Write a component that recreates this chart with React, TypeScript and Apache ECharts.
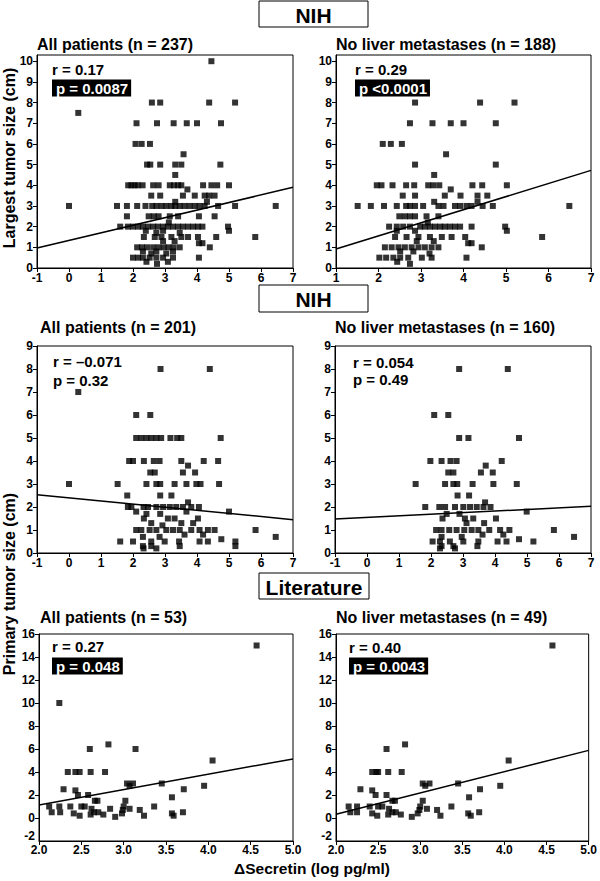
import React, { useEffect, useRef } from "react";
import * as echarts from "echarts";

const FONT = '"Liberation Sans", Arial, Helvetica, sans-serif';

// Panel 1: NIH, all patients (n = 237), largest tumor size
const nihAllLargest: number[][] = [
  [4.45, 10], [2.59, 8], [2.85, 8], [4.38, 8], [5.19, 8], [0.29, 7.5],
  [2.11, 7], [2.75, 7], [3.27, 7], [3.68, 7], [4.0, 7], [4.75, 7],
  [2.08, 6], [2.27, 6], [2.53, 6], [3.58, 5.5],
  [2.44, 5], [2.54, 5], [2.85, 5], [3.32, 5], [3.51, 5], [4.73, 5], [3.32, 4.5],
  [1.85, 4], [1.95, 4], [2.05, 4], [2.15, 4], [2.3, 4], [2.63, 4], [2.8, 4], [3.15, 4], [3.28, 4],
  [3.41, 4], [3.51, 4], [4.19, 4], [4.45, 4], [4.63, 4], [5.0, 4], [3.7, 3.8],
  [2.57, 3.5], [2.85, 3.5], [3.56, 3.5], [3.93, 3.5], [4.24, 3.5], [4.38, 3.5], [4.55, 3.5],
  [3.32, 3.2], [4.31, 3.2],
  [0.0, 3], [1.5, 3], [1.81, 3], [2.13, 3], [2.39, 3], [2.6, 3], [2.73, 3], [2.89, 3], [3.04, 3],
  [3.2, 3], [3.32, 3], [3.46, 3], [3.61, 3], [3.77, 3], [3.93, 3], [4.08, 3], [4.24, 3], [4.66, 3],
  [5.19, 3], [6.46, 3],
  [1.81, 2.5], [2.49, 2.5], [2.65, 2.5], [2.8, 2.5], [3.15, 2.5], [3.41, 2.5], [4.06, 2.5], [4.55, 2.5],
  [3.12, 2.2],
  [1.6, 2], [1.84, 2], [2.0, 2], [2.16, 2], [2.31, 2], [2.47, 2], [2.63, 2], [2.78, 2], [2.94, 2],
  [3.09, 2], [3.25, 2], [3.41, 2], [3.56, 2], [3.72, 2], [3.88, 2], [4.03, 2], [4.17, 2], [4.97, 2],
  [2.4, 1.8], [2.94, 1.8], [5.0, 1.8], [2.73, 1.7], [3.46, 1.7],
  [2.34, 1.5], [2.68, 1.5], [2.89, 1.5], [3.2, 1.5], [3.51, 1.5], [3.72, 1.5], [4.03, 1.5], [4.6, 1.5], [5.82, 1.5],
  [2.94, 1.3], [3.3, 1.3], [4.06, 1.2], [4.17, 1.2],
  [2.13, 1], [2.28, 1], [2.44, 1], [2.63, 1], [2.8, 1], [2.96, 1], [3.11, 1], [3.27, 1], [3.46, 1], [4.4, 1],
  [2.31, 0.8], [2.73, 0.8], [3.25, 0.8], [2.57, 0.7], [3.04, 0.7],
  [2.0, 0.5], [2.16, 0.5], [2.31, 0.5], [2.52, 0.5], [2.73, 0.5], [2.94, 0.5], [3.25, 0.5], [4.06, 0.5],
  [2.42, 0.3], [3.09, 0.3], [2.75, 0.2],
];

// Panel 2: NIH, no liver metastases (n = 188), largest tumor size
const nihNoMetLargest: number[][] = [
  [2.86, 8], [4.39, 8], [5.2, 8],
  [2.74, 7], [3.27, 7], [3.7, 7], [4.0, 7], [4.76, 7],
  [2.1, 6], [2.29, 6], [2.55, 6], [3.59, 5.5], [2.86, 5], [4.76, 5], [3.31, 4.5],
  [1.96, 4], [2.07, 4], [2.33, 4], [2.65, 4], [2.84, 4], [3.17, 4], [3.29, 4], [3.43, 4], [4.21, 4], [4.44, 4], [5.02, 4],
  [3.7, 3.8],
  [2.57, 3.5], [2.86, 3.5], [3.56, 3.5], [3.93, 3.5], [4.33, 3.5], [4.56, 3.5], [3.31, 3.2], [4.33, 3.2],
  [1.51, 3], [1.82, 3], [2.13, 3], [2.43, 3], [2.65, 3], [2.74, 3], [2.86, 3], [3.05, 3], [3.41, 3], [3.53, 3],
  [3.8, 3], [3.92, 3], [4.07, 3], [4.19, 3], [4.45, 3], [4.69, 3], [6.49, 3],
  [2.49, 2.5], [2.62, 2.5], [2.74, 2.5], [2.86, 2.5], [3.13, 2.5], [3.41, 2.5], [3.16, 2.2],
  [2.25, 2], [2.43, 2], [2.58, 2], [2.74, 2], [2.98, 2], [3.09, 2], [3.21, 2], [3.33, 2], [3.45, 2], [3.56, 2],
  [3.68, 2], [3.8, 2], [3.92, 2], [4.19, 2], [4.98, 2],
  [2.43, 1.8], [2.86, 1.8], [5.02, 1.8],
  [2.39, 1.5], [2.66, 1.5], [2.94, 1.5], [3.21, 1.5], [3.49, 1.5], [3.72, 1.5], [4.04, 1.5], [5.85, 1.5],
  [2.9, 1.3], [3.3, 1.3], [4.11, 1.2], [4.19, 1.2],
  [2.15, 1], [2.31, 1], [2.47, 1], [2.62, 1], [2.78, 1], [2.94, 1], [3.09, 1], [3.25, 1], [3.41, 1], [4.43, 1],
  [2.51, 0.8], [2.82, 0.8], [3.2, 0.7],
  [2.02, 0.5], [2.18, 0.5], [2.35, 0.5], [2.51, 0.5], [2.7, 0.5], [3.02, 0.5], [3.25, 0.5], [4.07, 0.5],
  [2.44, 0.3], [2.74, 0.2],
];

// Panel 3: NIH, all patients (n = 201), primary tumor size
const nihAllPrimary: number[][] = [
  [2.86, 8], [4.4, 8], [0.29, 7], [2.1, 6], [2.54, 6],
  [2.1, 5], [2.26, 5], [2.42, 5], [2.57, 5], [2.73, 5], [2.88, 5], [3.17, 5], [3.38, 5], [3.51, 5], [4.74, 5],
  [1.88, 4], [2.0, 4], [2.34, 4], [2.65, 4], [2.83, 4], [3.51, 4], [4.21, 4], [4.66, 4], [3.72, 3.8],
  [2.54, 3.5], [2.68, 3.5], [3.56, 3.5], [3.94, 3.5],
  [0.0, 3], [1.52, 3], [2.42, 3], [2.73, 3], [2.85, 3], [3.3, 3], [3.67, 3], [3.98, 3], [4.11, 3], [4.69, 3],
  [1.82, 2.5], [2.85, 2.5], [3.2, 2.5], [3.72, 2.2],
  [1.84, 2], [1.95, 2], [2.33, 2], [2.47, 2], [2.73, 2], [2.94, 2], [3.15, 2], [3.35, 2], [3.56, 2], [3.82, 2], [4.06, 2],
  [2.1, 1.8], [3.67, 1.8], [5.0, 1.8], [2.42, 1.7], [2.85, 1.7],
  [2.34, 1.5], [3.09, 1.5], [3.3, 1.5], [4.03, 1.5], [2.57, 1.3], [3.51, 1.3], [3.88, 1.3], [2.92, 1.2],
  [2.1, 1], [2.26, 1], [2.52, 1], [2.73, 1], [3.04, 1], [3.25, 1], [3.46, 1], [3.82, 1], [4.08, 1], [4.34, 1], [4.55, 1], [5.83, 1],
  [3.61, 0.8], [4.19, 0.8], [2.31, 0.7], [2.83, 0.7], [4.76, 0.6], [6.46, 0.7],
  [1.6, 0.5], [2.0, 0.5], [2.57, 0.5], [2.99, 0.5], [3.44, 0.5], [4.08, 0.5], [4.34, 0.5], [5.2, 0.5],
  [2.31, 0.3], [2.57, 0.3], [3.46, 0.3], [5.2, 0.3], [2.33, 0.2], [2.73, 0.2],
];

// Panel 4: NIH, no liver metastases (n = 160), primary tumor size
const nihNoMetPrimary: number[][] = [
  [2.88, 8], [4.4, 8], [2.1, 6], [2.54, 6], [2.88, 5], [3.17, 5], [4.75, 5],
  [1.98, 4], [2.33, 4], [2.61, 4], [2.8, 4], [4.21, 4], [3.71, 3.8],
  [2.54, 3.5], [2.7, 3.5], [3.56, 3.5], [3.93, 3.5],
  [1.52, 3], [2.44, 3], [2.7, 3], [2.82, 3], [3.3, 3], [3.95, 3], [4.68, 3],
  [2.83, 2.5], [3.19, 2.5], [3.69, 2.2],
  [1.82, 2], [2.26, 2], [2.44, 2], [2.75, 2], [3.01, 2], [3.22, 2], [3.43, 2], [3.64, 2], [3.86, 2], [4.99, 1.8],
  [2.49, 1.7], [2.89, 1.7], [2.36, 1.5], [3.06, 1.5], [3.32, 1.5], [4.03, 1.5], [3.11, 1.3], [3.66, 1.3],
  [2.16, 1], [2.33, 1], [2.57, 1], [2.8, 1], [3.04, 1], [3.27, 1], [3.48, 1], [3.82, 1], [4.16, 1], [4.45, 1], [5.84, 1],
  [3.61, 0.8], [4.26, 0.8], [2.33, 0.7], [2.96, 0.7], [4.75, 0.6], [6.47, 0.7],
  [2.05, 0.5], [2.28, 0.5], [2.59, 0.5], [3.01, 0.5], [3.48, 0.5], [4.08, 0.5], [4.36, 0.5], [5.2, 0.5],
  [2.33, 0.3], [2.7, 0.3], [3.45, 0.3], [2.28, 0.2], [2.75, 0.2],
];

// Panel 5: Literature, all patients (n = 53)
const litAll: number[][] = [
  [4.57, 15], [2.24, 10], [2.6, 6], [2.82, 6.4], [3.14, 6],
  [2.34, 4], [2.43, 4], [2.48, 4], [2.61, 4], [2.78, 4], [4.05, 5],
  [2.29, 2.5], [2.43, 2.4], [2.46, 2.0], [2.58, 2.0], [2.66, 1.5], [2.69, 1.5],
  [3.04, 3.0], [3.07, 2.8], [3.11, 3.0], [3.45, 3.0], [3.57, 1.8], [3.71, 2.5], [3.95, 2.8],
  [2.12, 1.0], [2.15, 0.5], [2.24, 1.0], [2.25, 0.5], [2.37, 1.0], [2.41, 0.4], [2.48, 0.2],
  [2.5, 1.0], [2.54, 1.0], [2.61, 0.3], [2.62, 0.8], [2.65, 0.5], [2.7, 0.5], [2.76, 0.3],
  [2.84, 0.8], [2.9, 0.1], [2.98, 0.4], [2.99, 0.7], [3.0, 1.0], [3.02, 1.5], [3.07, 0.8],
  [3.19, 0.7], [3.24, 0.2], [3.36, 1.0], [3.57, 0.4], [3.59, 0.2], [3.7, 0.5],
];

// Panel 6: Literature, no liver metastases (n = 49)
const litNoMet: number[][] = [
  [4.57, 15], [2.6, 6], [2.82, 6.4],
  [2.43, 4], [2.48, 4], [2.5, 4], [2.62, 4], [2.78, 4], [4.05, 5],
  [2.29, 2.5], [2.43, 2.4], [2.47, 2.0], [2.6, 2.0], [2.67, 1.5], [2.7, 1.5],
  [3.03, 3.0], [3.06, 2.8], [3.11, 3.0], [3.45, 3.0], [3.58, 1.8], [3.71, 2.5], [3.95, 2.8],
  [2.15, 1.0], [2.17, 0.5], [2.25, 1.0], [2.25, 0.5], [2.4, 1.0], [2.43, 0.4], [2.49, 0.2],
  [2.5, 1.0], [2.55, 1.0], [2.62, 0.3], [2.63, 0.8], [2.67, 0.5], [2.71, 0.5], [2.77, 0.3],
  [2.9, 0.1], [2.97, 0.4], [2.99, 0.7], [3.0, 1.0], [3.03, 1.5], [3.08, 0.8],
  [3.2, 0.7], [3.24, 0.2], [3.37, 1.0], [3.57, 0.4], [3.6, 0.2], [3.7, 0.5],
];

// Regression lines: [[x0, y0], [x1, y1]]
const fitLines: number[][][] = [
  [[-1, 0.97], [7, 3.9]],
  [[1, 0.92], [7, 4.72]],
  [[-1, 2.53], [7, 1.45]],
  [[-1, 1.48], [7, 2.03]],
  [[2, 1.13], [5, 5.14]],
  [[2, 0.33], [5, 5.88]],
];

const panelData = [nihAllLargest, nihNoMetLargest, nihAllPrimary, nihNoMetPrimary, litAll, litNoMet];

const subtitles = [
  "All patients (n = 237)",
  "No liver metastases (n = 188)",
  "All patients (n = 201)",
  "No liver metastases (n = 160)",
  "All patients (n = 53)",
  "No liver metastases (n = 49)",
];
const rTexts = ["r = 0.17", "r = 0.29", "r = \u20130.071", "r = 0.054", "r = 0.27", "r = 0.40"];
const pTexts = ["p = 0.0087", "p <0.0001", "p = 0.32", "p = 0.49", "p = 0.048", "p = 0.0043"];
const pHighlighted = [true, true, false, false, true, true];

const xRanges = [[-1, 7, 1], [1, 7, 1], [-1, 7, 1], [-1, 7, 1], [2, 5, 0.5], [2, 5, 0.5]];
const yRanges = [[0, 10.3, 1], [0, 10.3, 1], [0, 9, 1], [0, 9, 1], [-2, 16, 2], [-2, 16, 2]];

const sectionHeaders = ["NIH", "NIH", "Literature"];

export default function App() {
  const ref = useRef<HTMLDivElement>(null);
  useEffect(() => {
    if (!ref.current) return;
    const chart = echarts.init(ref.current, null, { renderer: "svg" });

    const grids = [
      { left: 37, top: 55, width: 256, height: 213 },
      { left: 336, top: 55, width: 255, height: 213 },
      { left: 37, top: 346, width: 256, height: 207 },
      { left: 335, top: 346, width: 256, height: 207 },
      { left: 39, top: 634, width: 254, height: 207 },
      { left: 336, top: 634, width: 256, height: 207 },
    ];

    const axisCommon = {
      axisLine: { show: true, onZero: false, lineStyle: { color: "#000", width: 1 } },
      axisTick: { show: true, length: 4, lineStyle: { color: "#000" } },
      splitLine: { show: false },
    };

    const labelStyle = { color: "#000", fontFamily: FONT, fontWeight: "bold" as const, fontSize: 12 };

    const xAxis = xRanges.map((r, i) => ({
      type: "value",
      gridIndex: i,
      min: r[0],
      max: r[1],
      interval: r[2],
      ...axisCommon,
      axisLabel: {
        ...labelStyle,
        margin: r[2] < 1 ? 3 : 4,
        formatter: (v: number) => (r[2] < 1 ? v.toFixed(1) : String(v)),
      },
    }));

    const yAxis = yRanges.map((r, i) => ({
      type: "value",
      gridIndex: i,
      min: r[0],
      max: r[1],
      interval: r[2],
      ...axisCommon,
      axisLabel: {
        ...labelStyle,
        margin: 4,
        showMaxLabel: r[1] % r[2] === 0,
        showMinLabel: r[0] >= 0,
        formatter: (v: number) => (Math.abs(v - Math.round(v)) > 1e-6 ? "" : String(v)),
      },
    }));

    const series: any[] = [];
    panelData.forEach((d, i) => {
      series.push({
        type: "scatter",
        xAxisIndex: i,
        yAxisIndex: i,
        data: d,
        symbol: "rect",
        symbolSize: 6,
        itemStyle: { color: "#000" },
        z: 3,
      });
      series.push({
        type: "line",
        xAxisIndex: i,
        yAxisIndex: i,
        data: fitLines[i],
        showSymbol: false,
        symbol: "none",
        lineStyle: { color: "#000", width: 1.5 },
        z: 2,
      });
    });

    const graphic: any[] = [];
    const headerBoxes = [
      { x: 259, y: 1, w: 109, h: 26 },
      { x: 259, y: 285, w: 109, h: 27 },
      { x: 259, y: 573, w: 110, h: 26 },
    ];
    headerBoxes.forEach((b, i) => {
      graphic.push({
        type: "rect",
        shape: { x: b.x, y: b.y, width: b.w, height: b.h },
        style: { fill: "#fff", stroke: "#000", lineWidth: 1 },
      });
      graphic.push({
        type: "text",
        x: b.x + b.w / 2,
        y: b.y + b.h / 2 + 1,
        style: {
          text: sectionHeaders[i],
          fontFamily: FONT,
          fontWeight: "bold",
          fontSize: 21,
          fill: "#000",
          textAlign: "center",
          textVerticalAlign: "middle",
        },
      });
    });

    // raised "-2" labels at the bottom of the literature y axes
    [[39, 841], [336, 841]].forEach((p) => {
      graphic.push({
        type: "text",
        x: p[0] - 4,
        y: p[1] + 1,
        style: {
          text: "-2",
          fontFamily: FONT,
          fontWeight: "bold",
          fontSize: 12,
          fill: "#000",
          textAlign: "right",
          textVerticalAlign: "bottom",
        },
      });
    });

    const subPos = [
      [37, 44], [336, 44], [40, 327], [335, 327], [40, 617], [336, 617],
    ];
    subtitles.forEach((t, i) => {
      graphic.push({
        type: "text",
        x: subPos[i][0],
        y: subPos[i][1],
        style: {
          text: t,
          fontFamily: FONT,
          fontWeight: "bold",
          fontSize: 16,
          fill: "#000",
          textAlign: "left",
          textVerticalAlign: "middle",
        },
      });
    });

    const rPos = [
      [52, 69], [355, 69], [53, 361], [353, 362], [52, 646], [349, 647],
    ];
    const pPos = [
      [52, 88], [355, 88], [53, 380], [353, 379], [52, 666], [349, 666],
    ];
    rTexts.forEach((t, i) => {
      graphic.push({
        type: "text",
        x: rPos[i][0],
        y: rPos[i][1],
        style: {
          text: t,
          fontFamily: FONT,
          fontWeight: "bold",
          fontSize: 15,
          fill: "#000",
          textAlign: "left",
          textVerticalAlign: "middle",
        },
      });
      const hl = pHighlighted[i];
      graphic.push({
        type: "text",
        x: pPos[i][0],
        y: pPos[i][1],
        style: {
          text: pTexts[i],
          fontFamily: FONT,
          fontWeight: "bold",
          fontSize: 15,
          fill: hl ? "#fff" : "#000",
          backgroundColor: hl ? "#000" : "transparent",
          padding: hl ? [1, 3, 1, 4] : 0,
          textAlign: "left",
          textVerticalAlign: "middle",
        },
      });
    });

    graphic.push({
      type: "text",
      x: 9,
      y: 158,
      rotation: Math.PI / 2,
      style: {
        text: "Largest tumor size (cm)",
        fontFamily: FONT,
        fontWeight: "bold",
        fontSize: 16,
        fill: "#000",
        textAlign: "center",
        textVerticalAlign: "middle",
      },
    });
    graphic.push({
      type: "text",
      x: 9,
      y: 584,
      rotation: Math.PI / 2,
      style: {
        text: "Primary tumor size (cm)",
        fontFamily: FONT,
        fontWeight: "bold",
        fontSize: 16,
        fill: "#000",
        textAlign: "center",
        textVerticalAlign: "middle",
      },
    });
    graphic.push({
      type: "text",
      x: 312,
      y: 868,
      style: {
        text: "\u0394Secretin (log pg/ml)",
        fontFamily: FONT,
        fontWeight: "bold",
        fontSize: 15.5,
        fill: "#000",
        textAlign: "center",
        textVerticalAlign: "middle",
      },
    });

    chart.setOption({
      animation: false,
      backgroundColor: "#fff",
      grid: grids.map((g) => ({ ...g, show: true, borderColor: "#000", borderWidth: 1, backgroundColor: "transparent" })),
      xAxis,
      yAxis,
      series,
      graphic,
    });

    return () => chart.dispose();
  }, []);

  return (
    <div
      ref={ref}
      style={{ position: "absolute", left: 0, top: 0, width: 600, height: 881, background: "#fff" }}
    />
  );
}
